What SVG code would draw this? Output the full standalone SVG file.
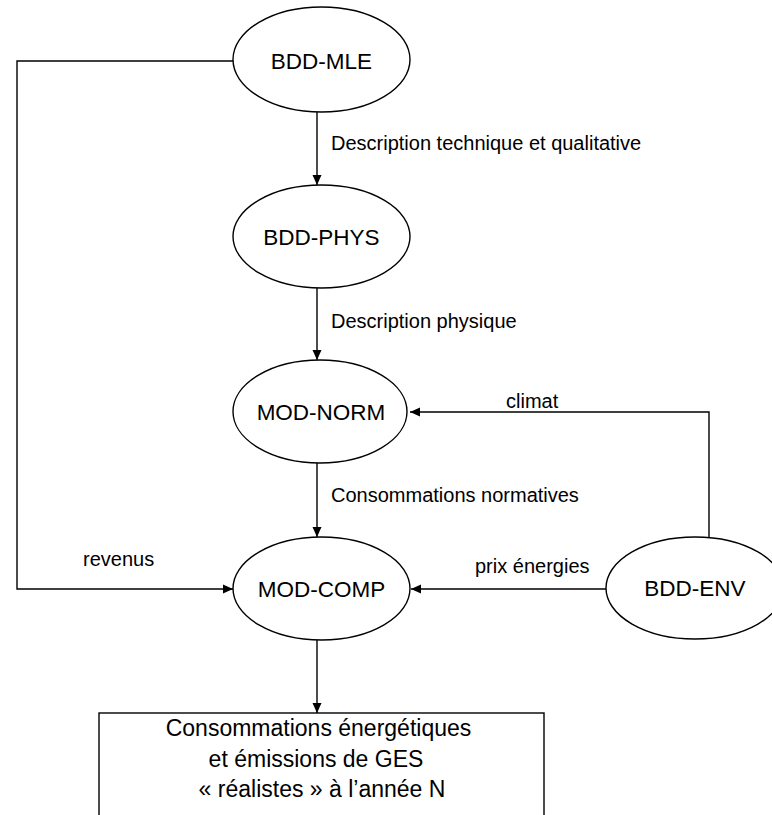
<svg xmlns="http://www.w3.org/2000/svg" width="772" height="815" viewBox="0 0 772 815">
<style>
.n{fill:#fff;stroke:#000;stroke-width:1.4}
.c{fill:none;stroke:#000;stroke-width:1.4}
.t{font-family:"Liberation Sans",Arial,sans-serif;font-size:22.5px;fill:#000;text-anchor:middle}
.l{font-family:"Liberation Sans",Arial,sans-serif;font-size:20px;fill:#000}
.b{font-family:"Liberation Sans",Arial,sans-serif;font-size:23px;fill:#000;text-anchor:middle}
</style>
<defs>
<marker id="ah" markerWidth="10" markerHeight="10" refX="10" refY="5" orient="auto" markerUnits="userSpaceOnUse">
<path d="M0,0.5 L10,5 L0,9.5 Z" fill="#000"/>
</marker>
</defs>
<rect width="772" height="815" fill="#fff"/>
<g id="connectors">
<path class="c" d="M317,112 V185" marker-end="url(#ah)"/>
<path class="c" d="M317,288 V360" marker-end="url(#ah)"/>
<path class="c" d="M317,463 V537" marker-end="url(#ah)"/>
<path class="c" d="M317,640 V713" marker-end="url(#ah)"/>
<path class="c" d="M233,61 H17 V589 H233" marker-end="url(#ah)"/>
<path class="c" d="M709,537 V412 H410" marker-end="url(#ah)"/>
<path class="c" d="M606,589 H411" marker-end="url(#ah)"/>
<text class="l" x="331" y="150">Description technique et qualitative</text>
<text class="l" x="331" y="328">Description physique</text>
<text class="l" x="506" y="408">climat</text>
<text class="l" x="331" y="502">Consommations normatives</text>
<text class="l" x="83" y="566">revenus</text>
<text class="l" x="475" y="573">prix énergies</text>
</g>
<g id="bdd-mle">
<ellipse class="n" cx="321.5" cy="59.5" rx="88.5" ry="52.5"/>
<text class="t" x="321.5" y="69">BDD-MLE</text>
</g>
<g id="bdd-phys">
<ellipse class="n" cx="321.5" cy="236.5" rx="88.5" ry="51.5"/>
<text class="t" x="321.5" y="244.5">BDD-PHYS</text>
</g>
<g id="mod-norm">
<ellipse class="n" cx="320" cy="411.5" rx="87" ry="51.5"/>
<text class="t" x="321" y="419.5">MOD-NORM</text>
</g>
<g id="mod-comp">
<ellipse class="n" cx="321.5" cy="588.5" rx="88.5" ry="51.5"/>
<text class="t" x="321.5" y="596.5">MOD-COMP</text>
</g>
<g id="bdd-env">
<ellipse class="n" cx="695" cy="588" rx="89" ry="51"/>
<text class="t" x="695" y="596">BDD-ENV</text>
</g>
<g id="result">
<rect class="n" x="99" y="713" width="445" height="120"/>
<text class="b" x="318.5" y="736">Consommations énergétiques</text>
<text class="b" x="316" y="767">et émissions de GES</text>
<text class="b" x="322" y="797">« réalistes » à l’année N</text>
</g>
</svg>
